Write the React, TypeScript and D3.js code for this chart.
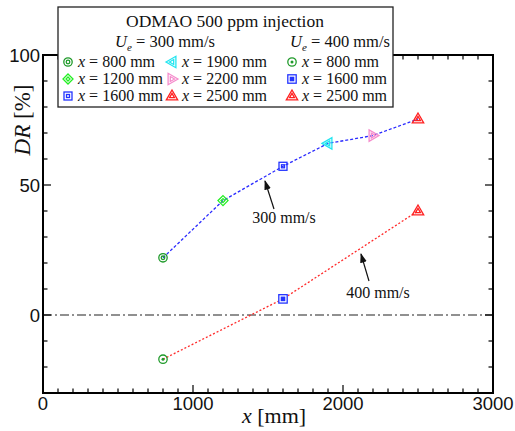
import React from "react";
import * as d3 from "d3";

const W = 515, H = 431;
const M = { left: 43, right: 493, top: 55, bottom: 393 };

const xPos300 = [800, 1200, 1600, 1900, 2200, 2500];
const dr300 = [22, 44, 57.2, 66, 69, 75.4];
const markers300 = ["ring", "diamond", "square", "left", "right", "up"];
const colors300 = ["#1f9a2a", "#22ee22", "#2233ff", "#22e5f0", "#f58ccc", "#ff2020"];

const xPos400 = [800, 1600, 2500];
const dr400 = [-17, 6.2, 40];
const markers400 = ["dot", "squareFill", "up"];
const colors400 = ["#1f9a2a", "#2233ff", "#ff2020"];

const xTicks = [0, 1000, 2000, 3000];
const yTicks = [0, 50, 100];

const legendTitle = "ODMAO 500 ppm injection";
const legend300 = ["800", "1200", "1600", "1900", "2200", "2500"];
const legend400 = ["800", "1600", "2500"];

const SERIF = "'Liberation Serif', 'Times New Roman', Times, serif";
const SANS = "'Liberation Sans', Arial, Helvetica, sans-serif";

const x = d3.scaleLinear().domain([0, 3000]).range([M.left, M.right]);
const y = d3.scaleLinear().domain([-30, 100]).range([M.bottom, M.top]);

function Marker({ kind, cx, cy, color }: { kind: string; cx: number; cy: number; color: string }) {
  const sw = 1.3;
  const tri = (r: number, dir: string) => {
    let pts: [number, number][];
    if (dir === "up") pts = [[0, -r], [r * 0.95, r * 0.65], [-r * 0.95, r * 0.65]];
    else if (dir === "left") pts = [[-r, 0], [r * 0.65, -r * 0.95], [r * 0.65, r * 0.95]];
    else pts = [[r, 0], [-r * 0.65, -r * 0.95], [-r * 0.65, r * 0.95]];
    return "M" + pts.map((p) => `${cx + p[0]},${cy + p[1]}`).join("L") + "Z";
  };
  switch (kind) {
    case "ring":
      return (
        <g fill="none" stroke={color} strokeWidth={sw}>
          <circle cx={cx} cy={cy} r={4.2} />
          <circle cx={cx} cy={cy} r={1.8} />
        </g>
      );
    case "dot":
      return (
        <g>
          <circle cx={cx} cy={cy} r={4.2} fill="none" stroke={color} strokeWidth={sw} />
          <circle cx={cx} cy={cy} r={1.5} fill={color} />
        </g>
      );
    case "diamond": {
      const d = (r: number) => `M${cx},${cy - r}L${cx + r},${cy}L${cx},${cy + r}L${cx - r},${cy}Z`;
      return (
        <g fill="none" stroke={color} strokeWidth={sw}>
          <path d={d(5)} />
          <path d={d(2)} />
        </g>
      );
    }
    case "square":
      return (
        <g fill="none" stroke={color} strokeWidth={sw}>
          <rect x={cx - 4} y={cy - 4} width={8} height={8} />
          <rect x={cx - 1.5} y={cy - 1.5} width={3} height={3} />
        </g>
      );
    case "squareFill":
      return (
        <g>
          <rect x={cx - 4.2} y={cy - 4.2} width={8.4} height={8.4} fill="#fff" stroke={color} strokeWidth={sw} />
          <rect x={cx - 2.3} y={cy - 2.3} width={4.6} height={4.6} fill={color} />
        </g>
      );
    default:
      return (
        <g fill="none" stroke={color} strokeWidth={sw}>
          <path d={tri(6, kind)} />
          <path d={tri(2.6, kind)} />
        </g>
      );
  }
}

function LegendLabel({ tx, ty, v }: { tx: number; ty: number; v: string }) {
  return (
    <text x={tx} y={ty} style={{ fontFamily: SERIF, fontSize: 16 }} fill="#111">
      <tspan style={{ fontStyle: "italic", fontFamily: SERIF }}>x</tspan>
      <tspan style={{ fontFamily: SERIF }}>{` = ${v} mm`}</tspan>
    </text>
  );
}

export default function App() {
  const line300 = d3.line<number>().x((_, i) => x(xPos300[i])).y((d) => y(d));
  const line400 = d3.line<number>().x((_, i) => x(xPos400[i])).y((d) => y(d));

  const xMinor = d3.range(0, 3001, 100);
  const yMinor = d3.range(-30, 101, 10);

  const lx = 58, ly = 7, lw = 335, lh = 100;
  const col = [68, 172, 292];
  const rows = [67, 84, 101];

  return (
    <svg width={W} height={H} style={{ position: "absolute", left: 0, top: 0, background: "#fff" }}>
      {/* zero reference line */}
      <line x1={M.left} x2={M.right} y1={y(0)} y2={y(0)} stroke="#222" strokeWidth={1.2} strokeDasharray="9,3,2,3" />

      {/* data lines */}
      <path d={line300(dr300) || ""} fill="none" stroke="#2a2aff" strokeWidth={1.3} strokeDasharray="3,2" />
      <path d={line400(dr400) || ""} fill="none" stroke="#ff2a2a" strokeWidth={1.3} strokeDasharray="2,2" />

      {dr300.map((d, i) => (
        <Marker key={"a" + i} kind={markers300[i]} cx={x(xPos300[i])} cy={y(d)} color={colors300[i]} />
      ))}
      {dr400.map((d, i) => (
        <Marker key={"b" + i} kind={markers400[i]} cx={x(xPos400[i])} cy={y(d)} color={colors400[i]} />
      ))}

      {/* annotations */}
      <defs>
        <marker id="arr" viewBox="0 0 10 10" refX="9" refY="5" markerWidth="8" markerHeight="8" orient="auto-start-reverse">
          <path d="M0,1.5L10,5L0,8.5Z" fill="#111" />
        </marker>
      </defs>
      <line x1={274} y1={209} x2={265} y2={181} stroke="#111" strokeWidth={1.2} markerEnd="url(#arr)" />
      <text x={284} y={223} textAnchor="middle" style={{ fontFamily: SERIF, fontSize: 16 }} fill="#111">300 mm/s</text>
      <line x1={369} y1={281} x2={361} y2={254} stroke="#111" strokeWidth={1.2} markerEnd="url(#arr)" />
      <text x={378} y={298} textAnchor="middle" style={{ fontFamily: SERIF, fontSize: 16 }} fill="#111">400 mm/s</text>

      {/* ticks */}
      <g stroke="#000" strokeWidth={1.2}>
        {xMinor.map((v) => {
          const len = v % 1000 === 0 ? 8 : 4.5;
          return (
            <g key={"xt" + v}>
              <line x1={x(v)} x2={x(v)} y1={M.bottom} y2={M.bottom - len} />
              <line x1={x(v)} x2={x(v)} y1={M.top} y2={M.top + len} />
            </g>
          );
        })}
        {yMinor.map((v) => {
          const len = v % 50 === 0 ? 8 : 4.5;
          return (
            <g key={"yt" + v}>
              <line x1={M.left} x2={M.left + len} y1={y(v)} y2={y(v)} />
              <line x1={M.right} x2={M.right - len} y1={y(v)} y2={y(v)} />
            </g>
          );
        })}
      </g>
      <rect x={M.left} y={M.top} width={M.right - M.left} height={M.bottom - M.top} fill="none" stroke="#000" strokeWidth={2} />

      {/* tick labels */}
      {xTicks.map((v) => (
        <text key={"xl" + v} x={x(v)} y={410} textAnchor="middle" style={{ fontFamily: SANS, fontSize: 18.5 }} fill="#111">{v}</text>
      ))}
      {yTicks.map((v) => (
        <text key={"yl" + v} x={40} y={y(v) + 6.5} textAnchor="end" style={{ fontFamily: SANS, fontSize: 18.5 }} fill="#111">{v}</text>
      ))}

      {/* axis titles */}
      <text x={274} y={423} textAnchor="middle" style={{ fontFamily: SERIF, fontSize: 22 }} fill="#111">
        <tspan style={{ fontStyle: "italic", fontFamily: SERIF }}>x</tspan>
        <tspan style={{ fontFamily: SERIF }}>{" [mm]"}</tspan>
      </text>
      <text transform="translate(30,120) rotate(-90)" textAnchor="middle" style={{ fontFamily: SERIF, fontSize: 23 }} fill="#111">
        <tspan style={{ fontStyle: "italic", fontFamily: SERIF }}>DR</tspan>
        <tspan style={{ fontFamily: SERIF }}>{" [%]"}</tspan>
      </text>

      {/* legend */}
      <rect x={lx} y={ly} width={lw} height={lh} fill="#fff" stroke="#222" strokeWidth={1.3} />
      <text x={225} y={27} textAnchor="middle" style={{ fontFamily: SERIF, fontSize: 17.5 }} fill="#111">{legendTitle}</text>
      {[["300", 165], ["400", 340]].map(([s, cxv]) => (
        <text key={"u" + s} x={cxv as number} y={47} textAnchor="middle" style={{ fontFamily: SERIF, fontSize: 16.5 }} fill="#111">
          <tspan style={{ fontStyle: "italic", fontFamily: SERIF }}>U</tspan>
          <tspan style={{ fontStyle: "italic", fontFamily: SERIF, fontSize: 11 }} dy={4}>e</tspan>
          <tspan style={{ fontFamily: SERIF }} dy={-4}>{` = ${s} mm/s`}</tspan>
        </text>
      ))}
      {legend300.map((v, i) => {
        const c = Math.floor(i / 3), r = i % 3;
        return (
          <g key={"l3" + i}>
            <Marker kind={markers300[i]} cx={col[c]} cy={rows[r] - 5} color={colors300[i]} />
            <LegendLabel tx={col[c] + 10} ty={rows[r]} v={v} />
          </g>
        );
      })}
      {legend400.map((v, i) => (
        <g key={"l4" + i}>
          <Marker kind={markers400[i]} cx={col[2]} cy={rows[i] - 5} color={colors400[i]} />
          <LegendLabel tx={col[2] + 10} ty={rows[i]} v={v} />
        </g>
      ))}
    </svg>
  );
}
